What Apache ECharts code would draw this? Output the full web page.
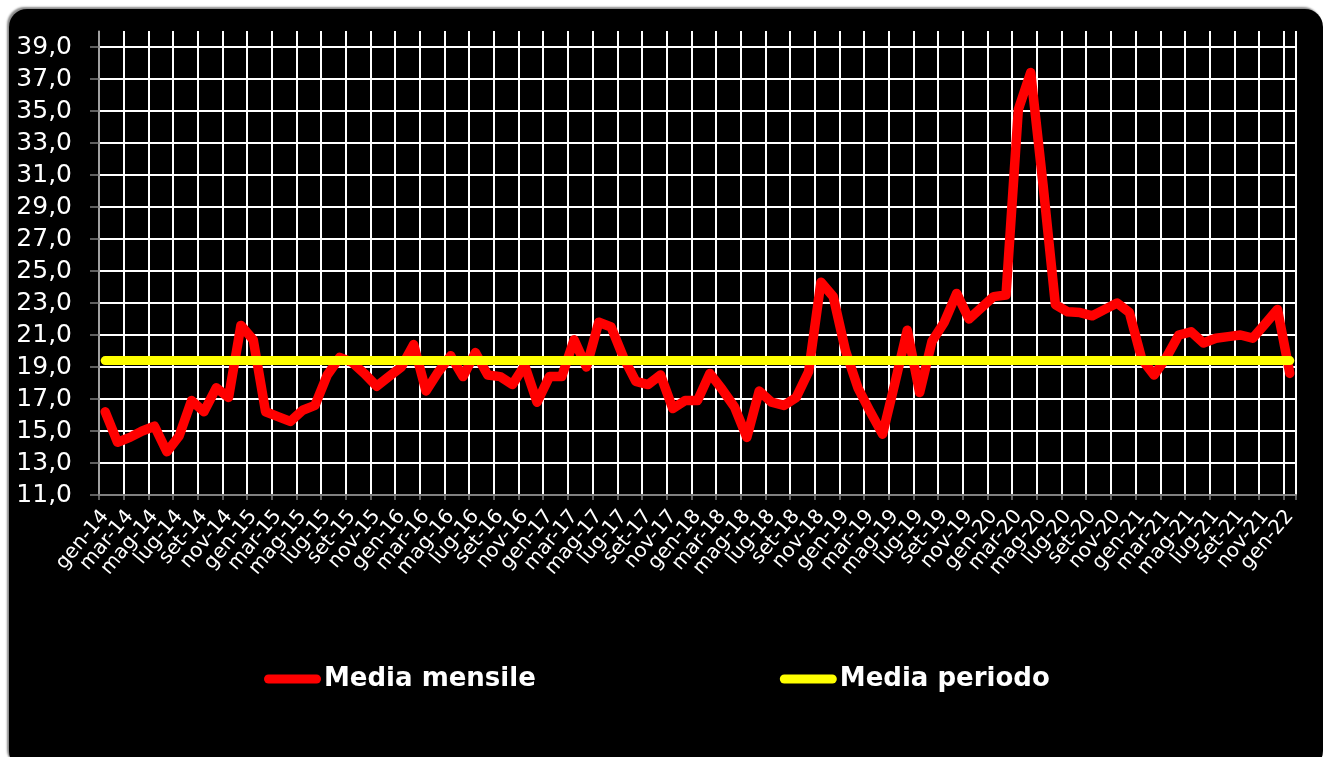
<!DOCTYPE html>
<html>
<head>
<meta charset="utf-8">
<script src="https://cdn.jsdelivr.net/npm/echarts@6/dist/echarts.min.js"></script>
<style>
  html, body { margin: 0; padding: 0; background: #ffffff; width: 1325px; height: 757px; overflow: hidden; }
  #frame { position: absolute; left: 9px; top: 9px; width: 1314px; height: 760px; background: #000;
           border-radius: 18px; box-shadow: -2px -2px 2px #8a8a8a; }
  #chart { position: absolute; left: 0; top: 0; width: 1325px; height: 757px; }
</style>
</head>
<body>
<div id="frame"></div>
<div id="chart"></div>
<script>
const monthNames = ['gen','feb','mar','apr','mag','giu','lug','ago','set','ott','nov','dic'];
const years = ['14','15','16','17','18','19','20','21','22'];
const categories = [];
years.forEach(function (y) {
  monthNames.forEach(function (m) {
    if (categories.length < 97) categories.push(m + '-' + y);
  });
});

const mediaMensile = [
  16.2, 14.3, 14.6, 15.0, 15.3, 13.7, 14.7, 16.9, 16.2, 17.7, 17.1, 21.6,
  20.7, 16.2, 15.9, 15.6, 16.3, 16.6, 18.5, 19.6, 19.3, 18.6, 17.8, 18.4,
  19.0, 20.4, 17.5, 18.7, 19.7, 18.4, 19.9, 18.5, 18.4, 17.9, 19.1, 16.8,
  18.4, 18.4, 20.7, 19.0, 21.8, 21.5, 19.6, 18.1, 17.9, 18.5, 16.4, 16.9,
  16.9, 18.6, 17.6, 16.5, 14.6, 17.5, 16.8, 16.6, 17.1, 18.7, 24.3, 23.4,
  20.0, 17.7, 16.2, 14.8, 18.0, 21.3, 17.4, 20.6, 21.8, 23.6, 22.0, 22.7,
  23.4, 23.5, 35.1, 37.4, 30.4, 22.9, 22.45, 22.4, 22.2, 22.6, 23.0, 22.4,
  19.5, 18.5, 19.6, 21.0, 21.2, 20.5, 20.8, 20.9, 21.0, 20.8, 21.7, 22.6,
  18.6
];
const mediaPeriodoValue = 19.4;
const mediaPeriodo = categories.map(function () { return mediaPeriodoValue; });

const chart = echarts.init(document.getElementById('chart'), null, { renderer: 'canvas' });
chart.setOption({
  backgroundColor: 'transparent',
  animation: false,
  grid: { left: 99, right: 29, top: 31, bottom: 262, containLabel: false },
  legend: {
    left: 259, top: 661,
    itemGap: 244, itemWidth: 57, itemHeight: 9,
    icon: 'path://M4.5,0 H52.5 A4.5,4.5 0 0 1 52.5,9 H4.5 A4.5,4.5 0 0 1 4.5,0 Z',
    textStyle: { color: '#ffffff', fontFamily: 'DejaVu Sans', fontWeight: 'bold', fontSize: 26, padding: [0, 0, 0, -2] },
    data: ['Media mensile', 'Media periodo']
  },
  xAxis: {
    type: 'category',
    data: categories,
    boundaryGap: true,
    axisLine: { show: true, lineStyle: { color: '#808080', width: 2 } },
    axisTick: { show: true, interval: 1, length: 5, lineStyle: { color: '#808080', width: 1.5 } },
    axisLabel: {
      interval: 0, showMinLabel: true, showMaxLabel: true, rotate: 50, margin: 18, color: '#ffffff',
      fontFamily: 'DejaVu Sans', fontSize: 20, lineHeight: 17,
      formatter: function (value, index) { return index % 2 === 0 ? value : ''; }
    },
    splitLine: { show: true, interval: 1, lineStyle: { color: '#ffffff', width: 2 } }
  },
  yAxis: {
    type: 'value',
    min: 11, max: 40, interval: 2,
    axisLine: { show: true, lineStyle: { color: '#808080', width: 1.5 } },
    axisTick: { show: true, length: 9, lineStyle: { color: '#808080', width: 1.5 } },
    axisLabel: {
      showMaxLabel: false, margin: 27, color: '#ffffff', fontFamily: 'DejaVu Sans', fontSize: 25,
      formatter: function (v) { return v === 40 ? '' : v.toFixed(1).replace('.', ','); }
    },
    splitLine: { show: true, showMaxLine: false, lineStyle: { color: '#ffffff', width: 2 } }
  },
  series: [
    {
      name: 'Media mensile', type: 'line', data: mediaMensile,
      showSymbol: false, symbol: 'none',
      itemStyle: { color: '#ff0000' },
      lineStyle: { color: '#ff0000', width: 9.5, cap: 'round', join: 'round' },
      z: 3
    },
    {
      name: 'Media periodo', type: 'line', data: mediaPeriodo,
      showSymbol: false, symbol: 'none',
      itemStyle: { color: '#ffff00' },
      lineStyle: { color: '#ffff00', width: 9, cap: 'round', join: 'round' },
      z: 4
    }
  ]
});
</script>
</body>
</html>
